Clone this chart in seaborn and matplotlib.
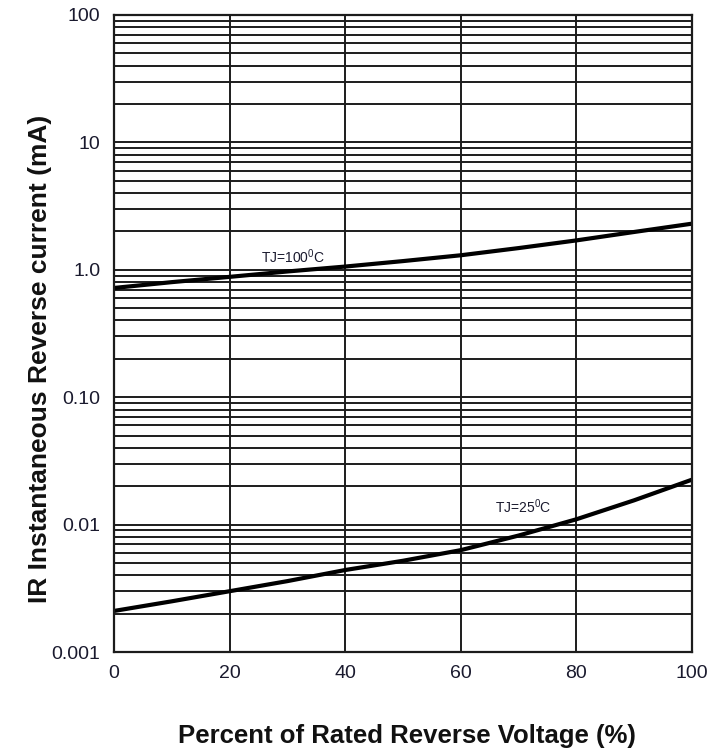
import matplotlib
matplotlib.use("Agg")
import matplotlib.pyplot as plt
import seaborn as sns
import pandas as pd
import numpy as np
from matplotlib.ticker import LogLocator, NullFormatter

# Data
voltage_pct = [0, 10, 20, 30, 40, 50, 60, 70, 80, 90, 100]
ir_tj100 = [0.72, 0.80, 0.88, 0.97, 1.06, 1.17, 1.30, 1.48, 1.70, 1.98, 2.30]
ir_tj25 = [0.0021, 0.0025, 0.0030, 0.0036, 0.0044, 0.0052, 0.0063, 0.0082, 0.011, 0.0155, 0.0225]
series_names = ["TJ=100°C", "TJ=25°C"]

x_ticks = [0, 20, 40, 60, 80, 100]
y_ticks = [0.001, 0.01, 0.1, 1, 10, 100]
y_tick_labels = ["0.001", "0.01", "0.10", "1.0", "10", "100"]

df = pd.DataFrame({
    "pct": voltage_pct * 2,
    "ir": ir_tj100 + ir_tj25,
    "series": [series_names[0]] * len(voltage_pct) + [series_names[1]] * len(voltage_pct),
})

sns.set_theme(style="white")
plt.rcParams["font.family"] = ["Liberation Sans", "DejaVu Sans"]

fig = plt.figure(figsize=(7.24, 7.49), dpi=100)
ax = fig.add_axes([0.1575, 0.1295, 0.798, 0.8505])

sns.lineplot(data=df, x="pct", y="ir", hue="series", palette=["black", "black"],
             linewidth=3.0, legend=False, ax=ax)

ax.set_yscale("log")
ax.set_xlim(0, 100)
ax.set_ylim(0.001, 100)

ax.set_xticks(x_ticks)
ax.set_xticklabels([str(t) for t in x_ticks])
ax.set_yticks(y_ticks)
ax.set_yticklabels(y_tick_labels)
ax.yaxis.set_minor_locator(LogLocator(base=10, subs=np.arange(2, 10), numticks=20))
ax.yaxis.set_minor_formatter(NullFormatter())

grid_color = "#1c1c1c"
ax.grid(which="major", axis="both", color=grid_color, linewidth=1.4)
ax.grid(which="minor", axis="y", color=grid_color, linewidth=1.4)
ax.set_axisbelow(True)

ax.tick_params(axis="both", which="both", length=0, labelsize=14, colors="#1a1a2e")
ax.tick_params(axis="x", pad=9)
ax.tick_params(axis="y", pad=10)

for sp in ax.spines.values():
    sp.set_color("#1c1c1c")
    sp.set_linewidth(1.6)

ax.set_xlabel("Percent of Rated Reverse Voltage (%)", fontsize=18.5, fontweight="bold",
              color="#111111", va="top")
ax.xaxis.set_label_coords(0.507, -0.113)
ax.set_ylabel("IR Instantaneous Reverse current (mA)", fontsize=19, fontweight="bold",
              color="#111111")
ax.yaxis.set_label_coords(-0.108, 0.46)

ax.text(25.4, 1.13, r"TJ=100$^{\mathregular{0}}$C", fontsize=10, ha="left", va="baseline",
        color="#1a1a2e")
ax.text(66, 0.0123, r"TJ=25$^{\mathregular{0}}$C", fontsize=10, ha="left", va="baseline",
        color="#1a1a2e")

fig.savefig("out.png", dpi=100)
